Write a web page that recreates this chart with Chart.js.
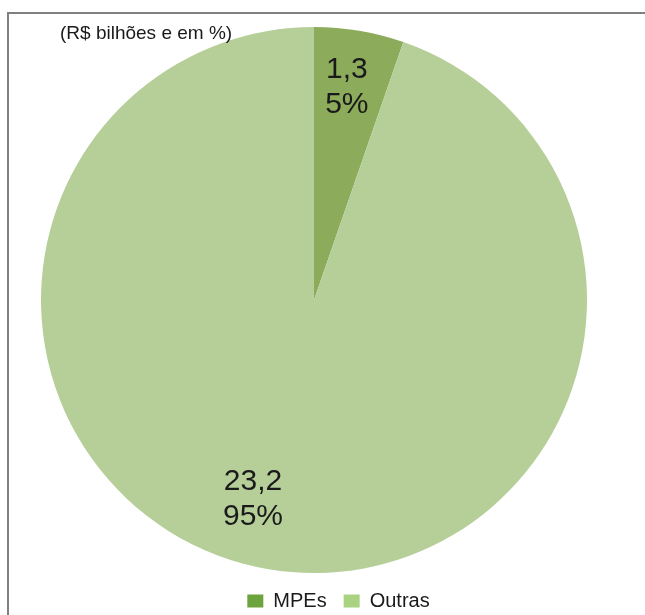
<!DOCTYPE html>
<html>
<head>
<meta charset="utf-8">
<script src="https://cdn.jsdelivr.net/npm/chart.js@4.4.1/dist/chart.umd.min.js"></script>
<style>
  html, body { margin: 0; padding: 0; background: #fff; }
  #wrap { position: relative; width: 645px; height: 615px; }
  #frame {
    position: absolute; left: 7px; top: 12px; right: -10px; bottom: -10px;
    border-left: 2px solid #808080; border-top: 2px solid #808080;
    pointer-events: none;
  }
</style>
</head>
<body>
<div id="wrap">
  <canvas id="pie-chart"></canvas>
  <div id="frame"></div>
</div>
<script>
// dados
const categories = ["MPEs", "Outras"];
const values = [1.3, 23.2];          // R$ bilhões
const shares = [5, 95];              // %
const header = "(R$ bilhões e em %)";

const sliceColors = ["#8cab5b", "#b6cf99"];
const legendColors = ["#6ca33c", "#a9d281"];

// posição dos rótulos: deslocamento angular (graus) e fração do raio
const labelAngle = [-0.8, 7.5];
const labelRadius = [0.79, 0.762];

const fontFamily = "'Liberation Sans', Arial, sans-serif";

// rótulos de dados e cabeçalho
const pieLabels = {
  id: "pieLabels",
  afterDatasetsDraw(chart) {
    const ctx = chart.ctx;
    const arcs = chart.getDatasetMeta(0).data;
    ctx.save();
    ctx.fillStyle = "#1a1a1a";
    ctx.textAlign = "center";
    ctx.textBaseline = "middle";
    ctx.font = "30px " + fontFamily;
    arcs.forEach((arc, i) => {
      const p = arc.getProps(["x", "y", "startAngle", "endAngle", "outerRadius"], true);
      const a = (p.startAngle + p.endAngle) / 2 + labelAngle[i] * Math.PI / 180;
      const r = p.outerRadius * labelRadius[i];
      const x = p.x + Math.cos(a) * r;
      const y = p.y + Math.sin(a) * r;
      ctx.fillText(String(values[i]).replace(".", ","), x, y - 17.5);
      ctx.fillText(shares[i] + "%", x, y + 17.5);
    });
    ctx.font = "19px " + fontFamily;
    ctx.textAlign = "left";
    ctx.fillText(header, 60, 33.5);
    ctx.restore();
  }
};

const ctx = document.getElementById("pie-chart").getContext("2d");
new Chart(ctx, {
  type: "pie",
  data: {
    labels: categories,
    datasets: [{
      data: values,
      backgroundColor: sliceColors,
      borderWidth: 0
    }]
  },
  options: {
    responsive: true,
    maintainAspectRatio: false,
    animation: false,
    radius: 273,
    layout: { padding: { left: 60, right: 28, top: 26, bottom: -6 } },
    plugins: {
      tooltip: { enabled: false },
      title: { display: false },
      // caixa vazia à direita para deslocar a pizza em relação à legenda
      subtitle: {
        display: true,
        position: "right",
        text: " ",
        padding: 0,
        font: { size: 1, lineHeight: "49px" }
      },
      legend: {
        position: "bottom",
        labels: {
          boxWidth: 16,
          boxHeight: 13,
          padding: 17,
          color: "#1a1a1a",
          font: { size: 20, family: fontFamily },
          generateLabels(chart) {
            const items = Chart.overrides.pie.plugins.legend.labels.generateLabels(chart);
            return items.map((it, i) => ({ ...it, fillStyle: legendColors[i], strokeStyle: legendColors[i], lineWidth: 0 }));
          }
        }
      }
    }
  },
  plugins: [pieLabels]
});
</script>
</body>
</html>
